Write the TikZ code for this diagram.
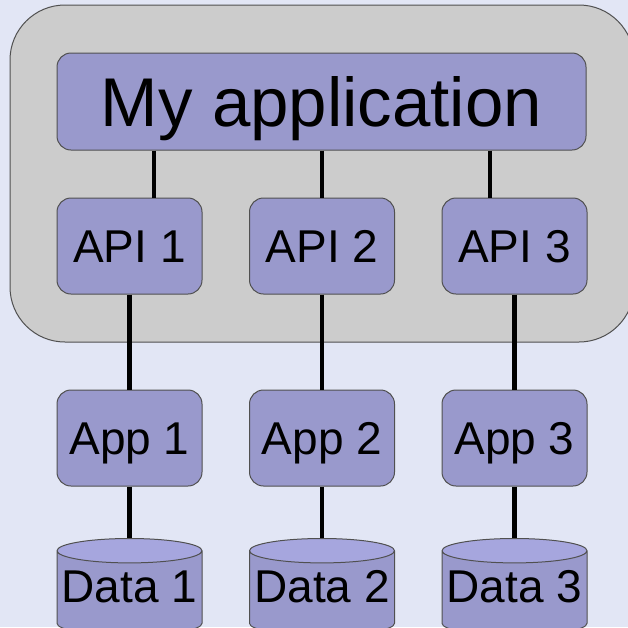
\documentclass[tikz,border=0pt]{standalone}
\usepackage{fontspec}
\setmainfont{Liberation Sans}
\usetikzlibrary{shapes.geometric}
\definecolor{bgcol}{HTML}{E2E6F5}
\definecolor{panel}{HTML}{CCCCCC}
\definecolor{boxfill}{HTML}{9999CC}
\definecolor{boxtop}{HTML}{A6A6DE}
\definecolor{edgecol}{HTML}{505050}
\tikzset{
  block/.style={draw=edgecol, line width=1pt, fill=boxfill, rounded corners=14pt,
    minimum width=145pt, minimum height=96pt, inner sep=0pt,
    font=\fontsize{46}{46}\selectfont, text height=33pt, text depth=0pt},
  store/.style={shape=cylinder, shape border rotate=90, aspect=0.18,
    draw=edgecol, line width=1pt, cylinder uses custom fill,
    cylinder body fill=boxfill, cylinder end fill=boxtop,
    minimum width=145pt, minimum height=97pt, inner sep=0pt,
    font=\fontsize{46}{46}\selectfont, text height=33pt, text depth=14pt},
  wire/.style={line width=4.5pt, black}
}
\begin{document}
\begin{tikzpicture}[x=1pt,y=-1pt]
  \useasboundingbox (0,0) rectangle (628,627);
  \clip (0,0) rectangle (628,627);
  \fill[bgcol] (0,0) rectangle (628,627);

  % outer panel holding the application and its APIs
  \node (frame) [draw=edgecol, line width=1pt, fill=panel, rounded corners=55pt,
    minimum width=624pt, minimum height=337pt, inner sep=0pt] at (322,173.5) {};

  \node (myapp) [block, minimum width=529pt, minimum height=97pt,
    font=\fontsize{69}{69}\selectfont, text height=49.5pt] at (321.5,101.5) {My application};

  \node (api1) [block] at (129.5,246) {API 1};
  \node (api2) [block] at (322,246) {API 2};
  \node (api3) [block] at (514.5,246) {API 3};

  \node (app1) [block] at (129.5,438) {App 1};
  \node (app2) [block] at (322,438) {App 2};
  \node (app3) [block] at (514.5,438) {App 3};

  \node (data1) [store, anchor=north] at (129.5,538) {Data 1};
  \node (data2) [store, anchor=north] at (322,538) {Data 2};
  \node (data3) [store, anchor=north] at (514.5,538) {Data 3};

  % links from the application down to each API
  \coordinate (t1) at (154,0);
  \coordinate (t2) at (322,0);
  \coordinate (t3) at (490,0);
  \draw[wire] (myapp.south -| t1) -- (api1.north -| t1);
  \draw[wire] (myapp.south -| t2) -- (api2.north -| t2);
  \draw[wire] (myapp.south -| t3) -- (api3.north -| t3);

  % API to app, app to data store
  \draw[wire] (api1.south) -- (app1.north);
  \draw[wire] (api2.south) -- (app2.north);
  \draw[wire] (api3.south) -- (app3.north);
  \draw[wire] (app1.south) -- (data1.north);
  \draw[wire] (app2.south) -- (data2.north);
  \draw[wire] (app3.south) -- (data3.north);
\end{tikzpicture}
\end{document}
